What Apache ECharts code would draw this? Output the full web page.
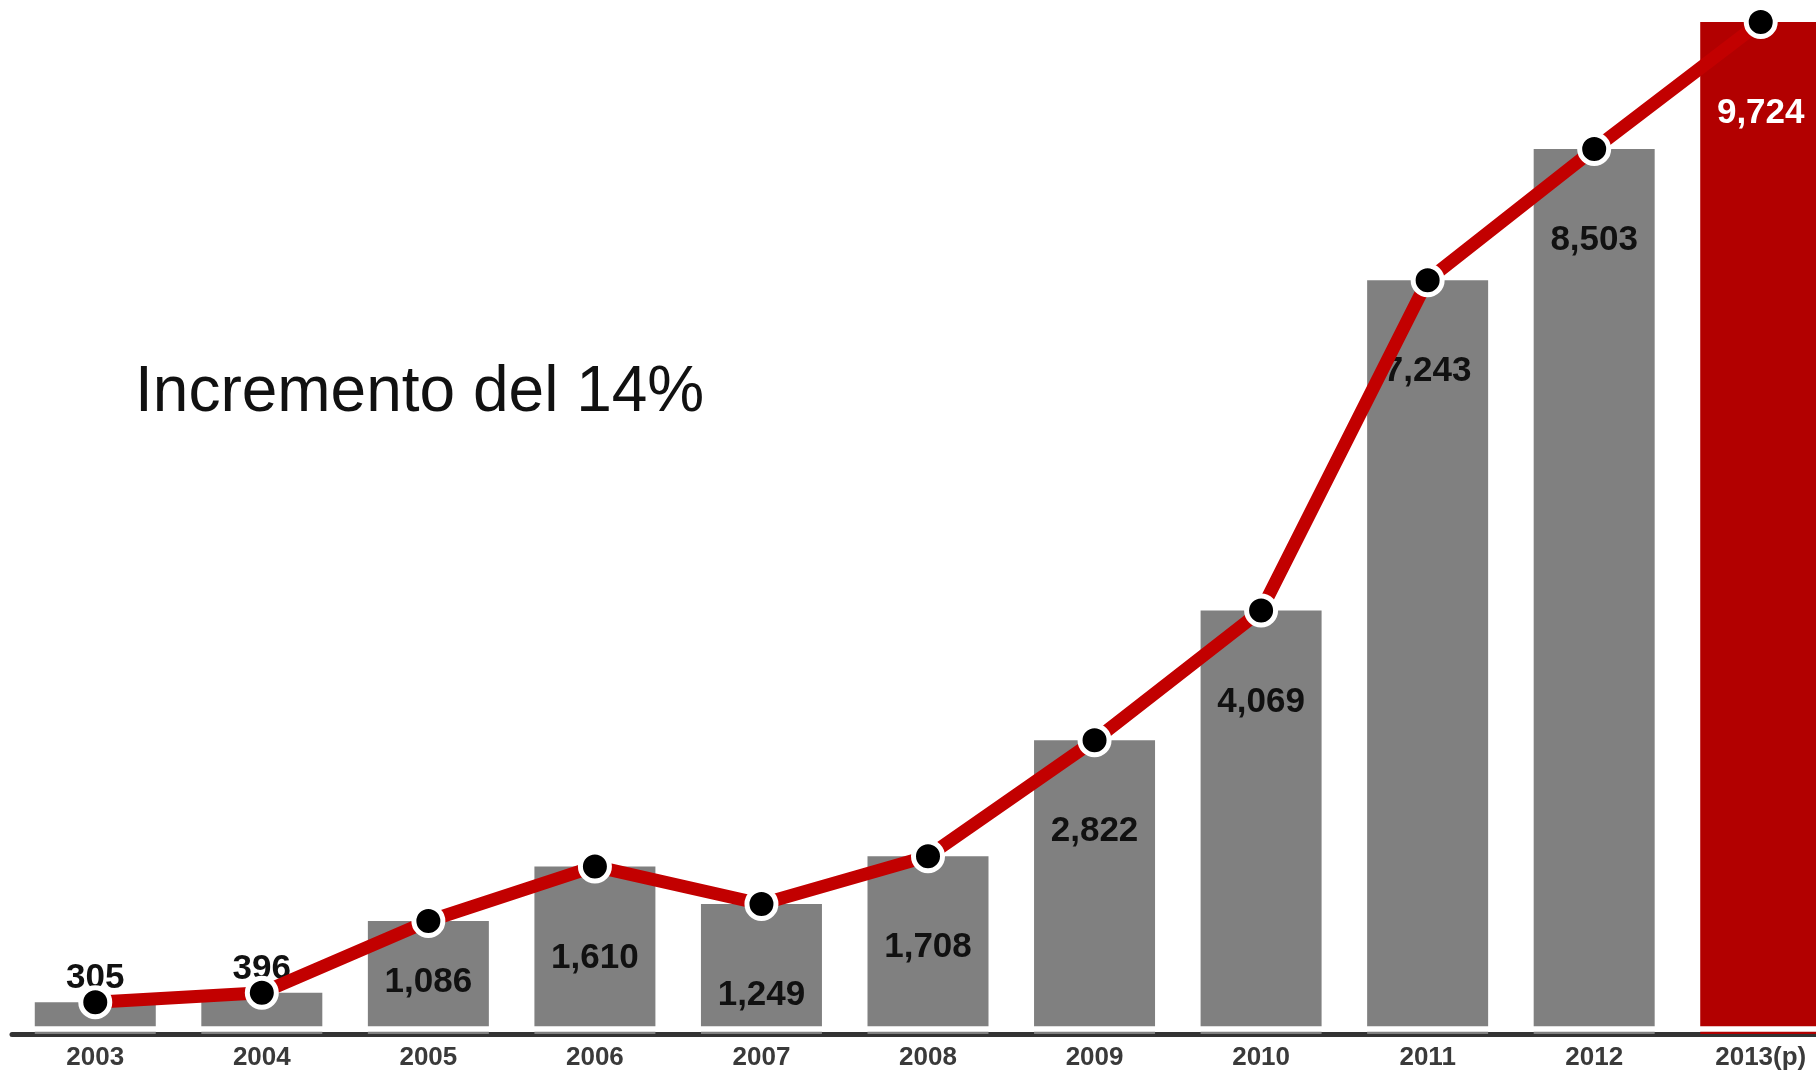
<!DOCTYPE html>
<html>
<head>
<meta charset="utf-8">
<script src="https://cdn.jsdelivr.net/npm/echarts@6/dist/echarts.min.js"></script>
<style>
html,body{margin:0;padding:0;background:#fff;}
#chart{width:1816px;height:1070px;}
</style>
</head>
<body>
<div id="chart"></div>
<script>
var categories = ['2003','2004','2005','2006','2007','2008','2009','2010','2011','2012','2013(p)'];
var values = [305, 396, 1086, 1610, 1249, 1708, 2822, 4069, 7243, 8503, 9724];
var titleText = 'Incremento del 14%';

var FONT = '"Liberation Sans", Arial, sans-serif';
var barData = values.map(function (v, i) {
  var item = { value: v };
  if (i === values.length - 1) {
    item.itemStyle = { color: '#b20000' };
    item.label = { color: '#ffffff' };
  }
  if (i === 0 || i === 1) {
    item.label = { position: 'top', distance: 6 };
  }
  if (i === 2) {
    item.label = { distance: 44 };
  }
  return item;
});

var chart = echarts.init(document.getElementById('chart'));
chart.setOption({
  backgroundColor: '#ffffff',
  animation: false,
  title: {
    text: titleText,
    left: 135,
    top: 361,
    padding: 0,
    textStyle: { fontFamily: FONT, fontSize: 64, fontWeight: 'normal', color: '#111111' }
  },
  grid: { left: 12, width: 1832, top: 22, bottom: 36, containLabel: false, outerBoundsMode: 'none' },
  xAxis: {
    type: 'category',
    data: categories,
    axisLine: { show: true, lineStyle: { color: '#333333', width: 5 } },
    axisTick: { show: false },
    axisLabel: { margin: 11, fontFamily: FONT, fontSize: 26, fontWeight: 'bold', color: '#3a3a3a', interval: 0, hideOverlap: false },
    splitLine: { show: false }
  },
  yAxis: {
    type: 'value',
    min: 0,
    max: 9724,
    show: false,
    splitLine: { show: false }
  },
  series: [
    {
      type: 'bar',
      data: barData,
      barWidth: 121,
      z: 2,
      itemStyle: { color: '#808080' },
      label: {
        show: true,
        position: 'insideTop',
        distance: 74,
        fontFamily: FONT,
        fontSize: 35,
        fontWeight: 'bold',
        color: '#111111',
        formatter: function (p) { return p.value.toLocaleString('en-US'); }
      }
    },
    {
      type: 'line',
      data: values,
      z: 3,
      symbol: 'circle',
      symbolSize: 29,
      lineStyle: { color: '#c20000', width: 13 },
      itemStyle: { color: '#000000', borderColor: '#ffffff', borderWidth: 5 },
      label: { show: false },
      markLine: {
        silent: true,
        symbol: ['none', 'none'],
        label: { show: false },
        lineStyle: { color: '#ffffff', width: 5.5, type: 'solid' },
        data: [{ yAxis: 53 }]
      }
    }
  ]
});
</script>
</body>
</html>
